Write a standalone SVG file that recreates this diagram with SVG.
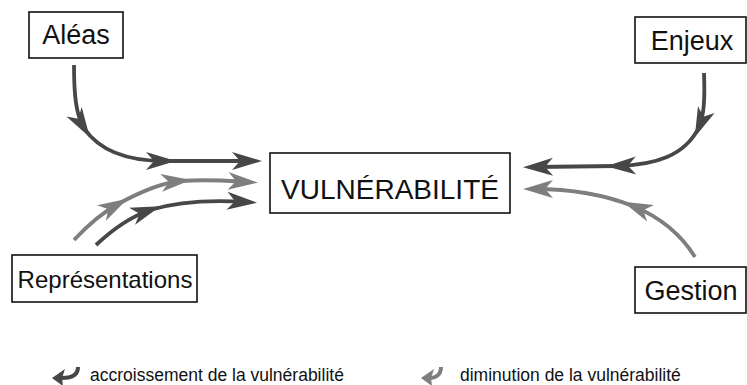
<svg xmlns="http://www.w3.org/2000/svg" width="747" height="385" viewBox="0 0 747 385">
<style>
.box{fill:#fff;stroke:#111;stroke-width:1.6}
.lbl{font-family:"Liberation Sans",Arial,sans-serif;fill:#111;text-anchor:middle}
.leg{font-family:"Liberation Sans",Arial,sans-serif;fill:#111;font-size:17.5px}
.dk{fill:none;stroke:#474747;stroke-width:3.8}
.lt{fill:none;stroke:#7e7e7e;stroke-width:3.8}
.dkm{marker-end:url(#hd)}
.ltm{marker-end:url(#hl)}
</style>
<defs>
<marker id="hd" markerUnits="userSpaceOnUse" orient="auto" refX="0" refY="0" markerWidth="60" markerHeight="40" viewBox="-30 -20 60 40" overflow="visible">
<path d="M11,0 L-19,-9 L-11,0 L-19,9 Z" fill="#474747"/>
</marker>
<marker id="hl" markerUnits="userSpaceOnUse" orient="auto" refX="0" refY="0" markerWidth="60" markerHeight="40" viewBox="-30 -20 60 40" overflow="visible">
<path d="M11,0 L-19,-9 L-11,0 L-19,9 Z" fill="#7e7e7e"/>
</marker>
</defs>
<g id="connectors">
<path class="dk dkm" d="M74,65 C74,95 76,115 84,128"/>
<path class="dk dkm" d="M84,128 C100,152 130,161 165,161"/>
<path class="dk dkm" d="M165,161 L251,161"/>
<path class="lt ltm" d="M74,240 C88,225 100,214 118,204"/>
<path class="lt ltm" d="M118,204 C140,192 160,183 180,181"/>
<path class="lt ltm" d="M180,181 C210,179 230,181 247,182"/>
<path class="dk dkm" d="M96,245 C112,230 130,217 150,210"/>
<path class="dk dkm" d="M150,210 C180,201 215,200 246,202"/>
<path class="dk dkm" d="M704,73 C705,100 704,115 699,127"/>
<path class="dk dkm" d="M699,127 C685,156 655,165 617,166"/>
<path class="dk dkm" d="M617,166 L534,167"/>
<path class="lt ltm" d="M695,257 C682,236 662,218 633,206"/>
<path class="lt ltm" d="M633,206 C600,193 565,189 534,189"/>
</g>
<g id="node-aleas">
<rect class="box" x="29" y="12" width="94" height="46"/>
<text class="lbl" x="76" y="44" font-size="27">Aléas</text>
</g>
<g id="node-enjeux">
<rect class="box" x="635" y="17" width="111" height="46"/>
<text class="lbl" x="692" y="50" font-size="27">Enjeux</text>
</g>
<g id="node-vulnerabilite">
<rect class="box" x="270" y="153" width="240" height="60"/>
<text class="lbl" x="390" y="199" font-size="28">VULNÉRABILITÉ</text>
</g>
<g id="node-representations">
<rect class="box" x="12" y="255" width="185" height="47"/>
<text class="lbl" x="105" y="288" font-size="24">Représentations</text>
</g>
<g id="node-gestion">
<rect class="box" x="635" y="267" width="111" height="46"/>
<text class="lbl" x="691" y="300" font-size="27">Gestion</text>
</g>
<g id="legend">
<path d="M78,367 C78,375 72,378 62,378" fill="none" stroke="#474747" stroke-width="4"/>
<path d="M52,378 L65,369 L62,378 L63,386Z" fill="#474747"/>
<text class="leg" x="90" y="381">accroissement de la vulnérabilité</text>
<path d="M441,367 C441,375 435,378 431,378" fill="none" stroke="#7e7e7e" stroke-width="4"/>
<path d="M421,378 L434,369 L431,378 L432,386Z" fill="#7e7e7e"/>
<text class="leg" x="460" y="381">diminution de la vulnérabilité</text>
</g>
</svg>
